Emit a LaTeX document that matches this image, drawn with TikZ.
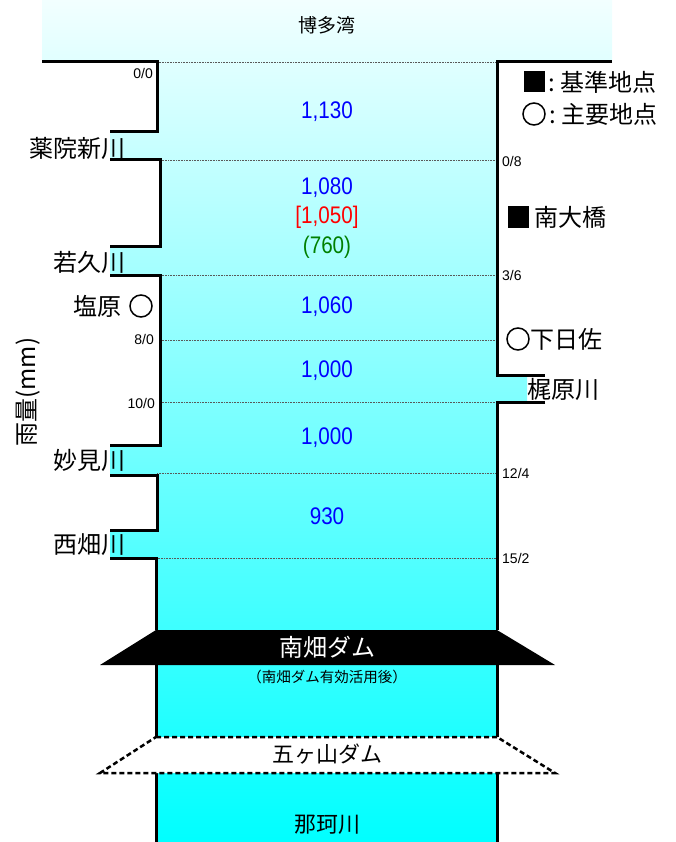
\documentclass[tikz,border=0pt]{standalone}
\usepackage{fontspec}
\setmainfont{Liberation Sans}
\newfontfamily\jp{Noto Sans CJK JP}
\newfontfamily\narrow[FakeStretch=0.86]{Liberation Sans}
\usetikzlibrary{positioning}
\definecolor{seatop}{HTML}{F2FFFF}
\definecolor{rivcyan}{HTML}{00FFFF}
\definecolor{valgreen}{RGB}{0,128,0}
\begin{document}
\begin{tikzpicture}[x=1pt,y=-1pt,
        bank/.style={line width=3pt},
        kmline/.style={gray!70!black, densely dotted, line width=0.6pt},
        lbl/.style={font=\jp\fontsize{24}{26}\selectfont, inner sep=0pt},
        val/.style={font=\narrow\fontsize{24}{26}\selectfont, inner sep=0pt, text=blue},
        km/.style={font=\fontsize{14}{16}\selectfont, inner sep=0pt},
        sqmark/.style={fill=black, minimum size=21pt, inner sep=0pt},
        cmark/.style={draw, circle, line width=1.5pt, minimum size=22pt, inner sep=0pt},
    ]
    \useasboundingbox (0,0) rectangle (676,842);
    % water
    \shade[top color=seatop, bottom color=rivcyan]
        (42,0) -- (612,0) -- (612,62) -- (497,62) -- (497,375) -- (527,375)
        -- (527,402) -- (497,402) -- (497,842) -- (156,842) -- (156,558)
        -- (110,558) -- (110,530) -- (157,530) -- (157,475) -- (110,475)
        -- (110,445) -- (160,445) -- (160,275) -- (110,275) -- (110,246)
        -- (160,246) -- (160,160) -- (110,160) -- (110,132) -- (157,132)
        -- (157,62) -- (42,62) -- cycle;
    % distance lines
    \draw[kmline] (157,62) -- (497,62);
    \draw[kmline] (160,160) -- (497,160);
    \draw[kmline] (160,275) -- (497,275);
    \draw[kmline] (160,340) -- (497,340);
    \draw[kmline] (160,402) -- (497,402);
    \draw[kmline] (157,473) -- (497,473);
    \draw[kmline] (156,558) -- (497,558);
    % banks
    \draw[bank] (42,62) -- (157,62) -- (157,132) -- (110,132);
    \draw[bank] (110,160) -- (160,160) -- (160,246) -- (110,246);
    \draw[bank] (110,275) -- (160,275) -- (160,445) -- (110,445);
    \draw[bank] (110,475) -- (157,475) -- (157,530) -- (110,530);
    \draw[bank] (110,558) -- (156,558) -- (156,630);
    \draw[bank] (612,62) -- (497,62) -- (497,375) -- (545,375);
    \draw[bank] (545,402) -- (497,402) -- (497,630);
    \draw[bank] (156,665) -- (156,737);
    \draw[bank] (497,665) -- (497,737);
    \draw[bank] (156,773) -- (156,842);
    \draw[bank] (497,773) -- (497,842);
    % dams
    \fill (156,630) -- (497,630) -- (555,665) -- (100,665) -- cycle;
    \draw[fill=white, line width=2.5pt, dash pattern=on 5pt off 3pt]
        (156,737) -- (497,737) -- (555,773) -- (100,773) -- cycle;
    \node[lbl, text=white] (minami) at (327,647) {南畑ダム};
    \node[lbl, font=\jp\fontsize{14.5}{16}\selectfont] (yuko) at (327,677) {（南畑ダム有効活用後）};
    \node[lbl, font=\jp\fontsize{22}{24}\selectfont] (gokayama) at (327,754) {五ヶ山ダム};
    \node[lbl, font=\jp\fontsize{22}{24}\selectfont] (naka) at (327,825) {那珂川};
    \node[lbl, font=\jp\fontsize{19}{21}\selectfont] (hakata) at (327,25) {博多湾};
    % rainfall
    \node[val] (v1) at (327,112) {1,130};
    \node[val] (v2) at (327,188) {1,080};
    \node[val, text=red] (v3) at (327,217) {[1,050]};
    \node[val, text=valgreen] (v4) at (327,247) {(760)};
    \node[val] (v5) at (327,307) {1,060};
    \node[val] (v6) at (327,371) {1,000};
    \node[val] (v7) at (327,438) {1,000};
    \node[val] (v8) at (327,516) {930};
    % tributaries
    \node[lbl, anchor=east] (yakuin) at (126,148) {薬院新川};
    \node[lbl, anchor=east] (wakahisa) at (126,262) {若久川};
    \node[lbl, anchor=east] (myoken) at (126,460) {妙見川};
    \node[lbl, anchor=east] (nishihata) at (126,545) {西畑川};
    \node[lbl, anchor=west] (kajiwara) at (527,389) {梶原川};
    % distances
    \node[km, anchor=east] (k00) at (153,73) {0/0};
    \node[km, anchor=east] (k80) at (154,339) {8/0};
    \node[km, anchor=east] (k100) at (155,403) {10/0};
    \node[km, anchor=west] (k08) at (502,161) {0/8};
    \node[km, anchor=west] (k36) at (502,275) {3/6};
    \node[km, anchor=west] (k124) at (502,473) {12/4};
    \node[km, anchor=west] (k152) at (502,558) {15/2};
    % points
    \node[sqmark] (lsq) at (534,82) {};
    \node[lbl, right=4pt of lsq] (lsqt) {:\hspace{5pt}基準地点};
    \node[cmark] (lci) at (534,114) {};
    \node[lbl, right=4pt of lci] (lcit) {:\hspace{5pt}主要地点};
    \node[sqmark] (ohashi) at (518,217) {};
    \node[lbl, right=6pt of ohashi] (ohashit) {南大橋};
    \node[cmark] (shimohi) at (518,339) {};
    \node[lbl, right=1pt of shimohi] (shimohit) {下日佐};
    \node[cmark] (shiobaru) at (141,306) {};
    \node[lbl, left=8pt of shiobaru] (shiobarut) {塩原};
    \node[lbl, rotate=90] (uryo) at (28,392) {雨量(mm)};
\end{tikzpicture}
\end{document}
